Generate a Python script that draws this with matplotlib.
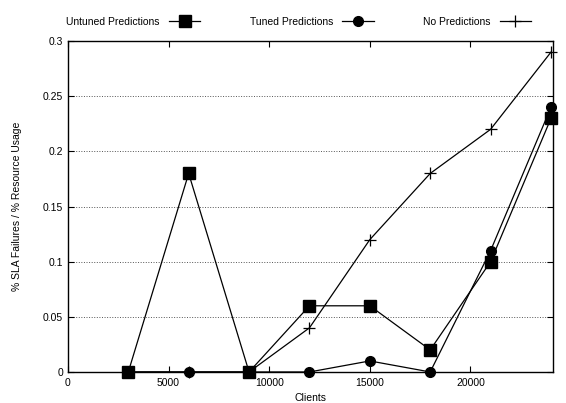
import matplotlib
matplotlib.use('Agg')
import matplotlib.pyplot as plt

plt.rcParams['font.family'] = ['Liberation Sans', 'DejaVu Sans']

clients = [3000, 6000, 9000, 12000, 15000, 18000, 21000, 24000]
untuned = [0, 0.18, 0, 0.06, 0.06, 0.02, 0.10, 0.23]
tuned = [0, 0, 0, 0, 0.01, 0, 0.11, 0.24]
nopred = [0, 0, 0, 0.04, 0.12, 0.18, 0.22, 0.29]
yticks = [0, 0.05, 0.1, 0.15, 0.2, 0.25, 0.3]
ytick_labels = ['0', '0.05', '0.1', '0.15', '0.2', '0.25', '0.3']
xticks = [0, 5000, 10000, 15000, 20000]

fig = plt.figure(figsize=(5.66, 4.03), dpi=100)
ax = fig.add_axes([0.120, 0.077, 0.857, 0.821])

ax.plot(clients, untuned, 'k-s', lw=0.9, ms=8, label='Untuned Predictions', clip_on=False, zorder=3)
ax.plot(clients, tuned, 'k-o', lw=0.9, ms=7, label='Tuned Predictions', clip_on=False, zorder=4)
ax.plot(clients, nopred, 'k-+', lw=0.9, ms=8, mew=0.9, label='No Predictions', clip_on=False, zorder=2)

ax.set_xlim(0, 24100)
ax.set_ylim(0, 0.3)
ax.set_xticks(xticks)
ax.set_yticks(yticks)
ax.set_yticklabels(ytick_labels)
ax.tick_params(direction='in', top=True, right=True, labelsize=7.5, length=4, width=0.8)
ax.tick_params(axis='x', pad=4.5)
ax.grid(True, axis='y', linestyle=':', color='#555555', lw=0.7)
for s in ax.spines.values():
    s.set_linewidth(1.0)

ax.set_xlabel('Clients', fontsize=7.5, labelpad=3.5)
ax.set_ylabel('% SLA Failures / % Resource Usage', fontsize=7.5, labelpad=15)

ax.legend(loc='lower left', bbox_to_anchor=(-0.012, 1.03, 0.975, 0.05), mode='expand', ncol=3,
          markerfirst=False, frameon=False, fontsize=7.5, handlelength=3.0,
          borderaxespad=0, handletextpad=0.9)

fig.savefig('out.png', dpi=100)
